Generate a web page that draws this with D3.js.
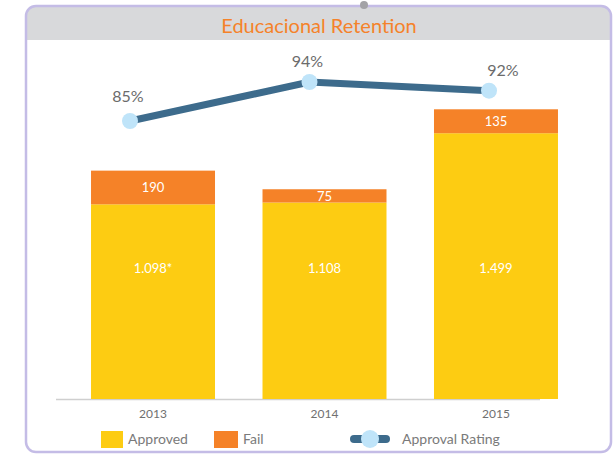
<!DOCTYPE html>
<html>
<head>
<meta charset="utf-8">
<script src="https://cdn.jsdelivr.net/npm/d3@7"></script>
<style>
  body { margin: 0; background: #fff; }
  text { font-family: "Lato", "Open Sans", sans-serif; }
</style>
</head>
<body>
<div id="chart"></div>
<script>
const years = ["2013", "2014", "2015"];
const approved = [1098, 1108, 1499];
const approvedLabels = ["1.098*", "1.108", "1.499"];
const fail = [190, 75, 135];
const rating = [85, 94, 92];

const W = 614, H = 454;
const yellow = "#fdcc12", orange = "#f58228", lineCol = "#3d6b8c", dotCol = "#bfe4f9";

const svg = d3.select("#chart").append("svg")
    .attr("width", W)
    .attr("height", H);

// Card frame
svg.append("path")
    .attr("d", "M26,452 L26,16 Q26,6 36,6 L601,6 Q611,6 611,16 L611,40 L26,40 Z")
    .attr("fill", "#d8d9db");
svg.append("rect")
    .attr("x", 26).attr("y", 6)
    .attr("width", 585).attr("height", 446)
    .attr("rx", 10)
    .attr("fill", "none")
    .attr("stroke", "#c4bce6")
    .attr("stroke-width", 2.5);
svg.append("circle")
    .attr("cx", 364).attr("cy", 5).attr("r", 4)
    .attr("fill", "#a3a3a6");

svg.append("text")
    .attr("x", 319).attr("y", 33)
    .attr("text-anchor", "middle")
    .attr("fill", "#f5822a")
    .style("font-size", "20px")
    .text("Educacional Retention");

// Scales
const x = d3.scaleBand()
    .domain(years)
    .range([65.3, 583.7])
    .paddingInner(0.277)
    .paddingOuter(0.15);

const y = d3.scaleLinear()
    .domain([0, 2000])
    .range([399, 44.4]);

const xl = d3.scalePoint()
    .domain(years)
    .range([130, 489]);

const yl = d3.scaleLinear()
    .domain([85, 94])
    .range([121, 82]);

// Baseline + year labels
svg.append("line")
    .attr("x1", 56).attr("x2", 540)
    .attr("y1", 399.5).attr("y2", 399.5)
    .attr("stroke", "#cfcfcf")
    .attr("stroke-width", 1.5);

const xAxis = svg.append("g")
    .attr("transform", "translate(0,400)")
    .call(d3.axisBottom(x).tickSize(0).tickPadding(9));
xAxis.select(".domain").remove();
xAxis.selectAll("text")
    .attr("fill", "#707070")
    .style("font-size", "12px")
    .style("font-family", "Lato, sans-serif");

// Bars
const g = svg.append("g");
years.forEach((yr, i) => {
    g.append("rect")
        .attr("x", x(yr))
        .attr("y", y(approved[i]))
        .attr("width", x.bandwidth())
        .attr("height", y(0) - y(approved[i]))
        .attr("fill", yellow);
    g.append("rect")
        .attr("x", x(yr))
        .attr("y", y(approved[i] + fail[i]))
        .attr("width", x.bandwidth())
        .attr("height", y(approved[i]) - y(approved[i] + fail[i]))
        .attr("fill", orange);
    g.append("text")
        .attr("x", x(yr) + x.bandwidth() / 2)
        .attr("y", 273)
        .attr("text-anchor", "middle")
        .attr("fill", "#fff")
        .style("font-size", "13px")
        .text(approvedLabels[i]);
    g.append("text")
        .attr("x", x(yr) + x.bandwidth() / 2)
        .attr("y", (y(approved[i]) + y(approved[i] + fail[i])) / 2 + 5)
        .attr("text-anchor", "middle")
        .attr("fill", "#fff")
        .style("font-size", "13px")
        .text(fail[i]);
});

// Approval rating line
const line = d3.line()
    .x((d, i) => xl(years[i]))
    .y(d => yl(d));

svg.append("path")
    .datum(rating)
    .attr("d", line)
    .attr("fill", "none")
    .attr("stroke", lineCol)
    .attr("stroke-width", 7);

svg.selectAll(".dot")
    .data(rating)
    .enter()
    .append("circle")
    .attr("cx", (d, i) => xl(years[i]))
    .attr("cy", d => yl(d))
    .attr("r", 8)
    .attr("fill", dotCol);

svg.selectAll(".pct")
    .data(rating)
    .enter()
    .append("text")
    .attr("x", (d, i) => xl(years[i]) + (i === 2 ? 14 : -2))
    .attr("y", (d, i) => yl(d) - (i === 0 ? 19 : 15))
    .attr("text-anchor", "middle")
    .attr("fill", "#6b6b6b")
    .style("font-size", "16px")
    .text(d => d + "%");

// Legend
const legend = svg.append("g");
legend.append("rect").attr("x", 101).attr("y", 431).attr("width", 22).attr("height", 17).attr("fill", yellow);
legend.append("text").attr("x", 128).attr("y", 444).attr("fill", "#7a7a7a").style("font-size", "14px").text("Approved");
legend.append("rect").attr("x", 214).attr("y", 431).attr("width", 24).attr("height", 17).attr("fill", orange);
legend.append("text").attr("x", 243).attr("y", 444).attr("fill", "#7a7a7a").style("font-size", "14px").text("Fail");
legend.append("line").attr("x1", 354).attr("x2", 386).attr("y1", 439).attr("y2", 439)
    .attr("stroke", lineCol).attr("stroke-width", 8).attr("stroke-linecap", "round");
legend.append("circle").attr("cx", 370).attr("cy", 439).attr("r", 9).attr("fill", dotCol);
legend.append("text").attr("x", 402).attr("y", 444).attr("fill", "#7a7a7a").style("font-size", "14px").text("Approval Rating");
</script>
</body>
</html>
